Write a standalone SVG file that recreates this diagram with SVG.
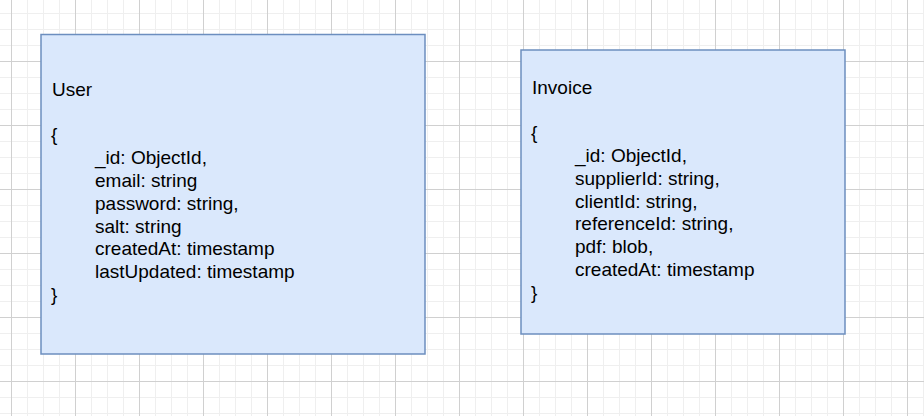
<svg xmlns="http://www.w3.org/2000/svg" width="924" height="416" viewBox="0 0 924 416">
  <defs>
    <pattern id="grid" x="11" y="-3" width="64" height="64" patternUnits="userSpaceOnUse">
      <rect x="16" y="0" width="1" height="64" fill="#efefef"/>
      <rect x="32" y="0" width="1" height="64" fill="#efefef"/>
      <rect x="48" y="0" width="1" height="64" fill="#efefef"/>
      <rect x="0" y="16" width="64" height="1" fill="#efefef"/>
      <rect x="0" y="32" width="64" height="1" fill="#efefef"/>
      <rect x="0" y="48" width="64" height="1" fill="#efefef"/>
      <rect x="0" y="0" width="1" height="64" fill="#d0d0d0"/>
      <rect x="0" y="0" width="64" height="1" fill="#d0d0d0"/>
    </pattern>
  </defs>
  <style>
    .box { fill: #dae8fc; stroke: #6c8ebf; stroke-width: 1.5; }
    .t { font-family: "Liberation Sans", Arial, Helvetica, sans-serif; font-size: 19px; fill: #000000; }
  </style>
  <rect x="0" y="0" width="924" height="416" fill="#ffffff"/>
  <rect x="0" y="0" width="924" height="416" fill="url(#grid)"/>
  <g id="connectors"></g>
  <g id="user">
    <rect class="box" x="41" y="34.5" width="384" height="319.5"/>
    <text class="t" x="52" y="95.7">User</text>
    <text class="t" x="51" y="141.3">{</text>
    <text class="t" x="95" y="164.1">_id: ObjectId,</text>
    <text class="t" x="95" y="186.9">email: string</text>
    <text class="t" x="95" y="209.7">password: string,</text>
    <text class="t" x="95" y="232.5">salt: string</text>
    <text class="t" x="95" y="255.3">createdAt: timestamp</text>
    <text class="t" x="95" y="278.1">lastUpdated: timestamp</text>
    <text class="t" x="51" y="300.9">}</text>
  </g>
  <g id="invoice">
    <rect class="box" x="521" y="50" width="324" height="284"/>
    <text class="t" x="532" y="93.5">Invoice</text>
    <text class="t" x="531" y="139.1">{</text>
    <text class="t" x="575" y="161.9">_id: ObjectId,</text>
    <text class="t" x="575" y="184.7">supplierId: string,</text>
    <text class="t" x="575" y="207.5">clientId: string,</text>
    <text class="t" x="575" y="230.3">referenceId: string,</text>
    <text class="t" x="575" y="253.1">pdf: blob,</text>
    <text class="t" x="575" y="275.9">createdAt: timestamp</text>
    <text class="t" x="531" y="298.7">}</text>
  </g>
</svg>
